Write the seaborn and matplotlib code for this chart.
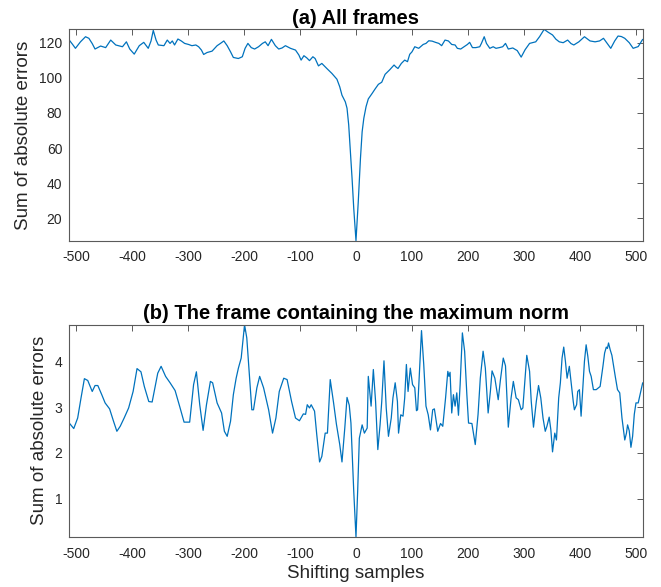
import pandas as pd
import seaborn as sns
import matplotlib.pyplot as plt

# (a) all frames: shift vs sum of absolute errors
shift_a = [-512, -506, -501, -492, -483, -477, -471, -466, -456, -447,
           -438, -429, -417, -410, -404, -396, -387, -379, -371, -366,
           -362, -357, -353, -343, -337, -332, -328, -324, -318, -312,
           -306, -299, -293, -286, -281, -276, -272, -266, -257, -248,
           -242, -236, -230, -224, -219, -210, -203, -198, -193, -187,
           -181, -174, -167, -162, -157, -151, -144, -138, -132, -126,
           -117, -108, -102, -98, -93, -88, -83, -77, -73, -67,
           -61, -52, -43, -34, -29, -25, -19, -16, -13, -10,
           -7, -4, 0, 4, 8, 11, 14, 18, 22, 29,
           34, 40, 46, 52, 60, 68, 71, 75, 81, 87,
           92, 96, 100, 105, 112, 120, 125, 130, 136, 142,
           148, 153, 159, 165, 171, 177, 181, 187, 193, 199,
           203, 208, 214, 221, 224, 229, 233, 239, 245, 250,
           256, 262, 267, 272, 280, 288, 295, 302, 310, 321,
           328, 336, 343, 351, 357, 363, 370, 378, 384, 389,
           398, 408, 418, 427, 435, 442, 450, 455, 462, 468,
           474, 480, 488, 495, 504, 512]
sae_a = [121.5, 119.0, 116.8, 120.5, 123.4, 122.5, 119.5, 116.4, 118.1, 117.2,
         121.5, 118.7, 117.7, 120.5, 116.4, 113.5, 118.3, 120.2, 116.8, 121.0,
         127.0, 121.5, 118.7, 118.3, 121.5, 119.6, 121.0, 118.7, 122.1, 121.0,
         119.6, 119.0, 118.3, 118.7, 117.7, 115.8, 113.3, 114.4, 115.2, 118.3,
         119.6, 121.0, 118.3, 114.8, 111.6, 111.0, 112.0, 116.8, 119.6, 117.2,
         116.4, 117.7, 119.6, 120.5, 118.3, 121.9, 118.3, 116.4, 117.0, 118.3,
         116.8, 115.8, 113.0, 110.1, 112.6, 111.4, 109.8, 112.0, 111.0, 106.8,
         108.2, 105.3, 102.5, 99.2, 94.9, 90.1, 86.3, 82.7, 73.2, 58.0,
         42.8, 25.7, 7.3, 29.0, 54.2, 69.3, 77.0, 83.6, 88.0, 91.2,
         93.6, 96.3, 97.5, 102.0, 104.5, 107.3, 106.3, 105.3, 108.2, 110.1,
         109.2, 113.4, 114.8, 117.7, 116.8, 119.0, 119.6, 121.1, 120.9, 120.2,
         119.6, 118.3, 121.5, 121.0, 119.0, 118.7, 116.8, 116.4, 117.7, 119.0,
         120.2, 117.2, 117.2, 117.7, 119.6, 123.4, 119.6, 116.8, 117.7, 116.8,
         117.2, 117.7, 119.6, 116.4, 117.0, 115.5, 111.8, 116.0, 119.6, 120.5,
         123.5, 127.6, 126.0, 124.4, 122.0, 120.5, 120.0, 121.5, 119.5, 118.7,
         120.5, 123.4, 121.0, 120.5, 121.0, 122.5, 119.0, 116.8, 121.0, 123.8,
         123.5, 122.5, 120.0, 116.8, 117.8, 121.9]

# (b) frame containing the maximum norm
shift_b = [-512, -504, -497, -491, -485, -479, -471, -466, -461, -454,
           -448, -440, -433, -427, -421, -414, -406, -398, -391, -384,
           -378, -370, -364, -360, -354, -348, -340, -332, -323, -315,
           -307, -297, -290, -285, -279, -273, -267, -260, -256, -248,
           -240, -235, -230, -224, -219, -214, -210, -205, -199, -195,
           -190, -186, -183, -177, -172, -165, -156, -149, -143, -137,
           -129, -123, -115, -108, -101, -94, -90, -87, -83, -80,
           -74, -70, -65, -61, -55, -51, -46, -40, -35, -29,
           -25, -20, -16, -12, -9, -7, -4, 0, 3, 6,
           11, 15, 20, 22, 27, 31, 35, 39, 43, 46,
           50, 54, 58, 63, 66, 70, 74, 76, 80, 84,
           87, 90, 93, 97, 101, 105, 108, 110, 117, 121,
           125, 129, 133, 137, 140, 143, 146, 151, 155, 160,
           164, 166, 168, 171, 174, 177, 180, 183, 186, 190,
           194, 198, 201, 207, 213, 218, 222, 227, 231, 236,
           240, 243, 248, 254, 258, 263, 267, 272, 277, 281,
           286, 290, 295, 298, 302, 305, 310, 313, 317, 322,
           326, 330, 334, 338, 341, 345, 348, 351, 355, 358,
           362, 365, 368, 371, 374, 377, 381, 384, 388, 390,
           394, 396, 399, 402, 405, 408, 411, 414, 417, 420,
           424, 429, 433, 436, 441, 444, 447, 449, 451, 454,
           457, 463, 467, 471, 475, 480, 483, 485, 488, 491,
           494, 497, 500, 504, 508, 512]
sae_b = [2.65, 2.53, 2.76, 3.20, 3.62, 3.58, 3.34, 3.47, 3.47, 3.27,
         3.09, 2.96, 2.69, 2.47, 2.58, 2.76, 2.98, 3.34, 3.84, 3.77,
         3.45, 3.12, 3.11, 3.36, 3.74, 3.89, 3.67, 3.53, 3.36, 3.02,
         2.67, 2.67, 3.49, 3.77, 3.05, 2.49, 3.05, 3.56, 3.53, 3.09,
         2.87, 2.47, 2.36, 2.69, 3.27, 3.63, 3.85, 4.07, 4.80, 4.51,
         3.63, 2.94, 2.94, 3.42, 3.67, 3.42, 2.94, 2.43, 2.76, 3.34,
         3.63, 3.60, 3.12, 2.76, 2.70, 2.85, 2.84, 3.05, 2.98, 3.05,
         2.91, 2.39, 1.80, 1.92, 2.43, 2.43, 3.60, 3.09, 2.63, 2.18,
         1.80, 2.54, 3.21, 3.04, 2.65, 2.03, 1.16, 0.16, 1.16, 2.32,
         2.61, 2.43, 2.54, 3.67, 3.02, 3.82, 3.12, 2.07, 2.61, 3.12,
         4.01, 2.98, 2.36, 2.76, 3.20, 3.53, 3.12, 2.43, 2.83, 2.80,
         3.20, 3.93, 3.34, 3.85, 3.49, 3.42, 2.92, 2.94, 4.67, 3.93,
         3.02, 2.83, 2.50, 2.94, 2.96, 2.72, 2.47, 2.64, 2.58, 3.20,
         3.78, 3.67, 3.76, 2.87, 3.27, 3.02, 3.31, 2.82, 3.49, 4.62,
         4.22, 3.27, 2.65, 2.64, 2.18, 2.84, 3.63, 4.22, 3.85, 2.87,
         3.34, 3.79, 3.63, 3.16, 3.60, 4.07, 3.90, 2.56, 3.20, 3.56,
         3.20, 3.16, 2.94, 2.98, 3.63, 4.13, 3.78, 3.12, 2.56, 3.12,
         3.47, 3.20, 2.76, 2.47, 2.58, 2.78, 2.50, 2.02, 2.43, 2.28,
         3.20, 3.53, 4.07, 4.31, 4.00, 3.63, 3.89, 3.56, 3.12, 2.94,
         3.05, 3.34, 3.38, 2.80, 3.42, 4.00, 4.36, 4.11, 3.78, 3.67,
         3.38, 3.38, 3.42, 3.45, 3.89, 4.18, 4.31, 4.28, 4.40, 4.25,
         4.13, 3.67, 3.38, 3.31, 2.76, 2.28, 2.43, 2.61, 2.48, 2.12,
         2.36, 2.84, 3.09, 3.09, 3.31, 3.53]

x_ticks = list(range(-500, 501, 100))
y_ticks_a = [20, 40, 60, 80, 100, 120]
y_ticks_b = [1, 2, 3, 4]

sns.set_style("white")
plt.rcParams['font.family'] = ['Liberation Sans', 'DejaVu Sans']
plt.rcParams['axes.unicode_minus'] = False  # plain hyphen like the original

line_color = '#0072BD'
edge = '#5a5a5a'
text_col = '#262626'

fig = plt.figure(figsize=(6.61, 5.87), dpi=100)
ax1 = fig.add_axes([0.1048, 0.590, 0.8675, 0.360])
ax2 = fig.add_axes([0.1048, 0.0852, 0.8675, 0.3617])

df_a = pd.DataFrame({'shift': shift_a, 'sae': sae_a})
df_b = pd.DataFrame({'shift': shift_b, 'sae': sae_b})

panels = [
    (ax1, df_a, y_ticks_a, '(a) All frames'),
    (ax2, df_b, y_ticks_b, '(b) The frame containing the maximum norm'),
]

for ax, df, yt, title in panels:
    sns.lineplot(data=df, x='shift', y='sae', ax=ax, color=line_color,
                 linewidth=0.9, estimator=None, sort=False)
    ax.set_xlim(-512, 512)
    ax.set_ylim(df['sae'].min(), df['sae'].max())
    ax.set_xticks(x_ticks)
    ax.set_yticks(yt)
    ax.tick_params(direction='in', top=True, right=True, length=4,
                   width=0.7, color=edge, labelsize=10, labelcolor=text_col,
                   pad=5)
    ax.tick_params(axis='x', pad=7)
    for s in ax.spines.values():
        s.set_color(edge)
        s.set_linewidth(0.8)
    ax.set_title(title, fontsize=14.5, fontweight='bold', pad=4, color='black')
    ax.set_ylabel('Sum of absolute errors', fontsize=13.5, color=text_col,
                  labelpad=5)
    ax.set_xlabel('')

ax2.set_xlabel('Shifting samples', fontsize=13.5, color=text_col, labelpad=3)

fig.savefig('out.png', dpi=100)
